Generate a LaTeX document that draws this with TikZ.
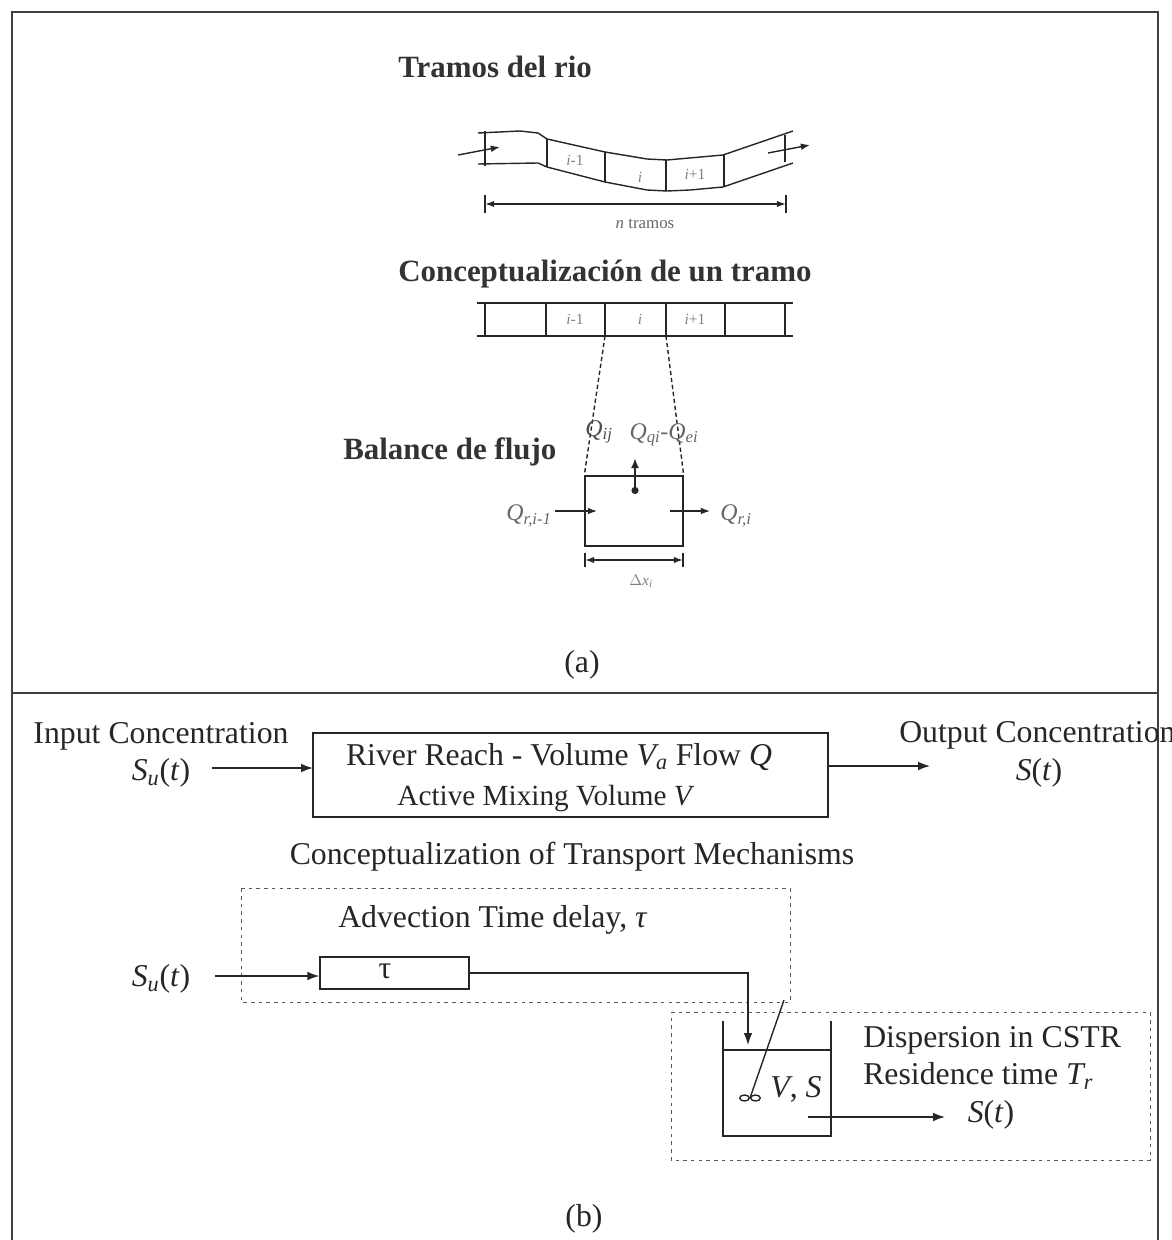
\documentclass[tikz,border=0pt]{standalone}
\usepackage{fontspec}
\setmainfont{Liberation Serif}
\usetikzlibrary{positioning,arrows.meta,shapes.geometric}
\newcommand{\Su}{\textit{S}\textsubscript{\textit{u}}(\textit{t})}
\newcommand{\St}{\textit{S}(\textit{t})}
\tikzset{
  txt/.style={inner sep=0pt, text=black!85, font=\fontsize{22.6}{24}\selectfont},
  title/.style={inner sep=0pt, text=black!80, font=\fontsize{22}{24}\selectfont\bfseries},
  tiny/.style={inner sep=0pt, text=black!50, font=\fontsize{11}{12}\selectfont},
  qlab/.style={inner sep=0pt, text=black!60, font=\fontsize{17}{18}\selectfont},
  frame/.style={draw=black!75, line width=0.9pt},
  dotbox/.style={draw=black!65, line width=0.7pt, dash pattern=on 2.5pt off 3pt},
  line/.style={draw=black!85, line width=1pt},
  flow/.style={line, -{Latex[length=3mm,width=2.2mm]}},
  flowsm/.style={line, -{Latex[length=2.3mm,width=1.7mm]}},
  dim/.style={line, {Latex[length=2.3mm,width=1.6mm]}-{Latex[length=2.3mm,width=1.6mm]}}
}
\begin{document}
\begin{tikzpicture}[x=0.25mm, y=-0.25mm]
  \useasboundingbox (0,0) rectangle (1172,1240);
  % frame
  \coordinate (fa) at (12,1240);
  \coordinate (fb) at (12,12);
  \coordinate (fc) at (1158,12);
  \coordinate (fd) at (1158,1240);
  \coordinate (fe) at (12,693);
  \coordinate (ff) at (1158,693);
  \draw[frame] (fa) -- (fb) -- (fc) -- (fd);
  \draw[frame] (fe) -- (ff);

  % part (a)
  \node[title, anchor=west] (t1) at (398,67) {Tramos del rio};
  \node[title, anchor=west] (t2) at (398,274) {Conceptualización de un tramo};
  \node[title, anchor=west] (t3) at (343,452) {Balance de flujo};
  \node[txt] (pa) at (582,665) {(a)};

  % river reaches
  \draw[line] (478,133) -- (520,131) -- (538,133) -- (547,139) -- (605,152) -- (647,159) -- (667,160) -- (723,155) -- (793,131);
  \draw[line] (478,164) -- (538,163) -- (547,167) -- (605,182) -- (647,190) -- (667,191) -- (690,190) -- (723,187) -- (793,163);
  \foreach \x/\a/\b in {485/131/166, 547/139/167, 605/152/182, 666/160/191, 724/155/187, 785/135/162}
    \draw[line] (\x,\a) -- (\x,\b);
  \node[tiny] (r1) at (575,160) {\textit{i}-1};
  \node[tiny] (r2) at (640,177) {\textit{i}};
  \node[tiny] (r3) at (695,174) {\textit{i}+1};
  \coordinate (ia) at (458,155);
  \coordinate (ib) at (500,147);
  \coordinate (oa) at (768,153);
  \coordinate (ob) at (810,145);
  \draw[flowsm] (ia) -- (ib);
  \draw[flowsm] (oa) -- (ob);
  \coordinate (na) at (485,204);
  \coordinate (nb) at (786,204);
  \draw[dim] (na) -- (nb);
  \draw[line] (485,195) -- (485,213);
  \draw[line] (786,195) -- (786,213);
  \node[tiny, text=black!60, font=\fontsize{12}{12}\selectfont] (nl) at (645,224) {\textit{n} tramos};

  % strip
  \draw[line] (477,303) -- (793,303);
  \draw[line] (477,336) -- (793,336);
  \foreach \x in {485,546,605,666,725,785}
    \draw[line] (\x,303) -- (\x,336);
  \node[tiny] (s1) at (575,319) {\textit{i}-1};
  \node[tiny] (s2) at (640,319) {\textit{i}};
  \node[tiny] (s3) at (695,319) {\textit{i}+1};

  % balance box
  \node[line, draw, minimum width=24.5mm, minimum height=17.5mm, inner sep=0pt] (cell) at (634,511) {};
  \coordinate (sa) at (605,336);
  \coordinate (sb) at (666,336);
  \draw[line, densely dashed] (sa) -- (cell.north west);
  \draw[line, densely dashed] (sb) -- (cell.north east);
  \coordinate (ua) at (635,458);
  \coordinate (ub) at (635,494);
  \draw[line, {Latex[length=2.5mm,width=2mm]}-{Circle[length=5pt]}, line width=1.5pt] (ua) -- (ub);
  \node[qlab, text=black!70] (q1) at (599,432) {\textit{Q}\textsubscript{\textit{ij}}};
  \node[qlab] (q2) at (664,435) {\textit{Q}\textsubscript{\textit{qi}}-\textit{Q}\textsubscript{\textit{ei}}};
  \node[qlab, anchor=east] (q3) at (552,516) {\textit{Q}\textsubscript{\textit{r,i-1}}};
  \node[qlab, anchor=west] (q4) at (720,516) {\textit{Q}\textsubscript{\textit{r,i}}};
  \coordinate (qd) at (555,511);
  \coordinate (qa) at (597,511);
  \coordinate (qb) at (670,511);
  \coordinate (qc) at (710,511);
  \draw[flowsm] (qd) -- (qa);
  \draw[flowsm] (qb) -- (qc);
  \coordinate (da) at (585,560);
  \coordinate (db) at (683,560);
  \draw[dim] (da) -- (db);
  \draw[line] (da) ++(0,-7) -- ++(0,14);
  \draw[line] (db) ++(0,-7) -- ++(0,14);
  \node[tiny] (dx) at (641,581) {$\Delta$\textit{x\textsubscript{i}}};

  % part (b)
  \node[txt] (inp) at (161,736) {Input Concentration};
  \node[txt] (su1) at (161,773) {\Su};
  \node[line, draw, minimum width=128.75mm, minimum height=21mm, inner sep=0pt] (reach) at (570.5,775) {};
  \node[txt] (re1) at (559,757) {River Reach - Volume \textit{V\textsubscript{a}} Flow \textit{Q}};
  \node[txt, font=\fontsize{20.8}{24}\selectfont] (re2) at (546,799) {Active Mixing Volume \textit{V}};
  \coordinate (ra) at (313,768);
  \coordinate (rb) at (828,766);
  \coordinate (rc) at (930,766);
  \coordinate (sd) at (212,768);
  \draw[flow] (sd) -- (ra);
  \draw[flow] (rb) -- (rc);
  \node[txt, anchor=west] (out) at (899,735) {Output Concentration};
  \node[txt] (st1) at (1039,773) {\St};
  \node[txt] (conc) at (572,857) {Conceptualization of Transport Mechanisms};

  % advection
  \coordinate (ada) at (241,888);
  \coordinate (adb) at (790,888);
  \coordinate (adc) at (790,1002);
  \coordinate (add) at (241,1002);
  \draw[dotbox] (ada) -- (adb) -- (adc) -- (add) -- cycle;
  \node[txt, anchor=west] (adv) at (338,920) {Advection Time delay, \textit{τ}};
  \node[txt] (su2) at (161,979) {\Su};
  \node[line, draw, minimum width=37.25mm, minimum height=8mm, inner sep=0pt] (delay) at (394.5,973) {};
  \node[txt] (tau) at (385,971) {τ};
  \coordinate (se) at (215,976);
  \draw[flow] (se) -- (se -| delay.west);

  % dispersion
  \coordinate (dia) at (671,1012);
  \coordinate (dib) at (1150,1012);
  \coordinate (dic) at (1150,1160);
  \coordinate (did) at (671,1160);
  \draw[dotbox] (dia) -- (dib) -- (dic) -- (did) -- cycle;
  \coordinate (ta) at (723,1021);
  \coordinate (tb) at (723,1136);
  \coordinate (tc) at (831,1136);
  \coordinate (td) at (831,1021);
  \coordinate (wa) at (723,1050);
  \coordinate (wb) at (831,1050);
  \draw[line] (ta) -- (tb) -- (tc) -- (td);
  \draw[line] (wa) -- (wb);
  \coordinate (inl) at (748,1045);
  \draw[flow] (delay.east) -- (delay.east -| inl) -- (inl);
  \node[ellipse, line, draw, minimum width=2.4mm, minimum height=1.5mm, inner sep=0pt] (mixa) at (744.5,1098) {};
  \node[ellipse, line, draw, minimum width=2.4mm, minimum height=1.5mm, inner sep=0pt] (mixb) at (755.5,1098) {};
  \coordinate (rod) at (784,1000);
  \draw[line] (rod) -- (750,1098);
  \node[txt] (vs) at (796,1089) {\textit{V}, \textit{S}};
  \node[txt, anchor=west] (dis) at (863,1040) {Dispersion in CSTR};
  \node[txt, anchor=west] (res) at (863,1076) {Residence time \textit{T\textsubscript{r}}};
  \node[txt] (st2) at (991,1115) {\St};
  \coordinate (oc) at (808,1117);
  \coordinate (od) at (945,1117);
  \draw[flow] (oc) -- (od);
  \node[txt] (pb) at (584,1219) {(b)};
\end{tikzpicture}
\end{document}
